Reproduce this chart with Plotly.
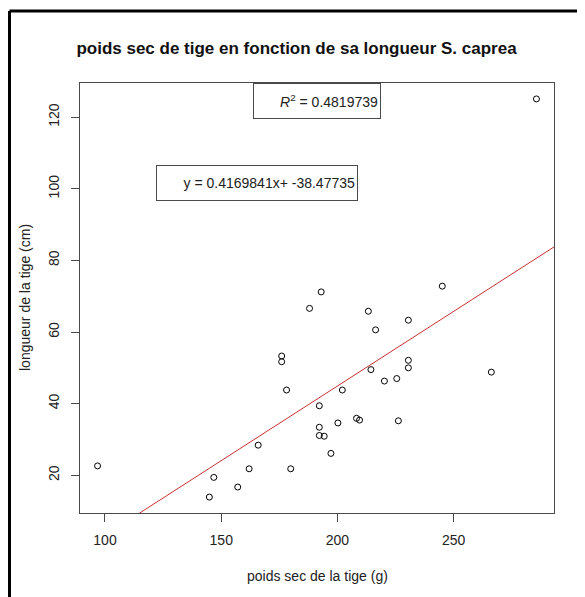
import plotly.graph_objects as go

# poids sec (g) / longueur (cm)
poids = [96.8, 188.0, 176.0, 176.0, 178.1, 192.2, 192.2, 192.2, 194.3, 197.2, 200.2,
         165.9, 162.0, 179.9, 146.8, 157.1, 144.9, 213.3, 230.5, 216.4, 230.5, 230.5,
         214.4, 266.2, 225.5, 220.2, 202.1, 208.2, 209.5, 226.2, 193.0, 245.1, 285.6]
longueur = [22.6, 66.6, 53.3, 51.7, 43.8, 39.4, 33.4, 31.1, 30.9, 26.1, 34.6,
            28.4, 21.8, 21.8, 19.4, 16.7, 13.9, 65.8, 63.3, 60.6, 52.1, 50.0,
            49.5, 48.8, 47.0, 46.3, 43.8, 35.9, 35.4, 35.2, 71.2, 72.8, 125.1]

pente = 0.4169841
ordonnee = -38.47735
r2 = 0.4819739

x_ticks = [100, 150, 200, 250]
y_ticks = [20, 40, 60, 80, 100, 120]

# the page body has an 8px margin, so the figure is shrunk and everything
# is placed in screen pixels minus that offset
OFF = 8
W, H = 585 - OFF, 597 - OFF
ML, MT = 72, 75
MR, MB = W - (554 - OFF), H - (513 - OFF)
PW, PH = W - ML - MR, H - MT - MB


def px(x):  # screen pixel -> paper x
    return (x - OFF - ML) / PW


def py(y):  # screen pixel -> paper y
    return (H - MB - (y - OFF)) / PH


# R style range: 4% padding on each side
def r_range(v):
    lo, hi = min(v), max(v)
    pad = (hi - lo) * 0.04
    return [lo - pad, hi + pad]


xr = r_range(poids)
yr = r_range(longueur)

FONT = "Liberation Sans, Arial, sans-serif"
frame = "#4a4a4a"

fig = go.Figure()

fig.add_trace(go.Scatter(
    x=poids, y=longueur, mode="markers",
    marker=dict(symbol="circle-open", size=6, color="black", line=dict(width=1)),
    showlegend=False, hoverinfo="x+y"
))

# droite de regression (abline)
fig.add_trace(go.Scatter(
    x=xr, y=[pente * v + ordonnee for v in xr], mode="lines",
    line=dict(color="#c83030", width=1), showlegend=False
))

axis_common = dict(
    showgrid=False, zeroline=False, showline=True, mirror=True,
    linecolor=frame, linewidth=1, ticks="outside", ticklen=8,
    tickcolor=frame, tickwidth=1, tickfont=dict(family=FONT, size=14, color="#222"),
    ticklabelstandoff=6,
)

fig.update_xaxes(range=xr, tickvals=x_ticks, **axis_common)
fig.update_yaxes(range=yr, tickvals=y_ticks, tickangle=-90, **axis_common)

fig.update_layout(
    width=W, height=H,
    margin=dict(l=ML, r=MR, t=MT, b=MB),
    paper_bgcolor="white", plot_bgcolor="white",
    title=dict(text="<b>poids sec de tige en fonction de sa longueur S. caprea</b>",
               x=px(317), xanchor="center", y=1 - (48 - OFF) / H, yanchor="middle",
               font=dict(family=FONT, size=17, color="#111")),
)

# titres des axes
fig.add_annotation(text="poids sec de la tige (g)", xref="paper", yref="paper",
                   x=px(317), y=py(576), xanchor="center", yanchor="middle",
                   showarrow=False, font=dict(family=FONT, size=14, color="#222"))
fig.add_annotation(text="longueur de la tige (cm)", xref="paper", yref="paper",
                   x=px(25), y=py(298), xanchor="center", yanchor="middle",
                   textangle=-90, showarrow=False,
                   font=dict(family=FONT, size=14, color="#222"))

# legendes (encadres)
fig.add_annotation(text="<i>R</i><sup>2</sup> = " + str(r2), xref="paper", yref="paper",
                   x=0.5, y=1, xanchor="center", yanchor="top", showarrow=False,
                   width=122, height=30, align="right", valign="middle",
                   bordercolor=frame, borderwidth=1, borderpad=2, bgcolor="white",
                   font=dict(family=FONT, size=14, color="#222"))
fig.add_annotation(text="y = " + str(pente) + "x+ " + str(ordonnee),
                   xref="paper", yref="paper", x=px(257.4), y=py(183.3),
                   xanchor="center", yanchor="middle", showarrow=False,
                   width=196, height=30, align="right", valign="middle",
                   bordercolor=frame, borderwidth=1, borderpad=2, bgcolor="white",
                   font=dict(family=FONT, size=14, color="#222"))

# cadre exterieur de l'image (haut et gauche)
fig.add_shape(type="line", xref="paper", yref="paper", x0=px(9.5), x1=px(600),
              y0=py(11), y1=py(11), line=dict(color="black", width=3))
fig.add_shape(type="line", xref="paper", yref="paper", x0=px(9.5), x1=px(9.5),
              y0=py(11), y1=py(610), line=dict(color="black", width=3))

fig.write_html("out.html")
